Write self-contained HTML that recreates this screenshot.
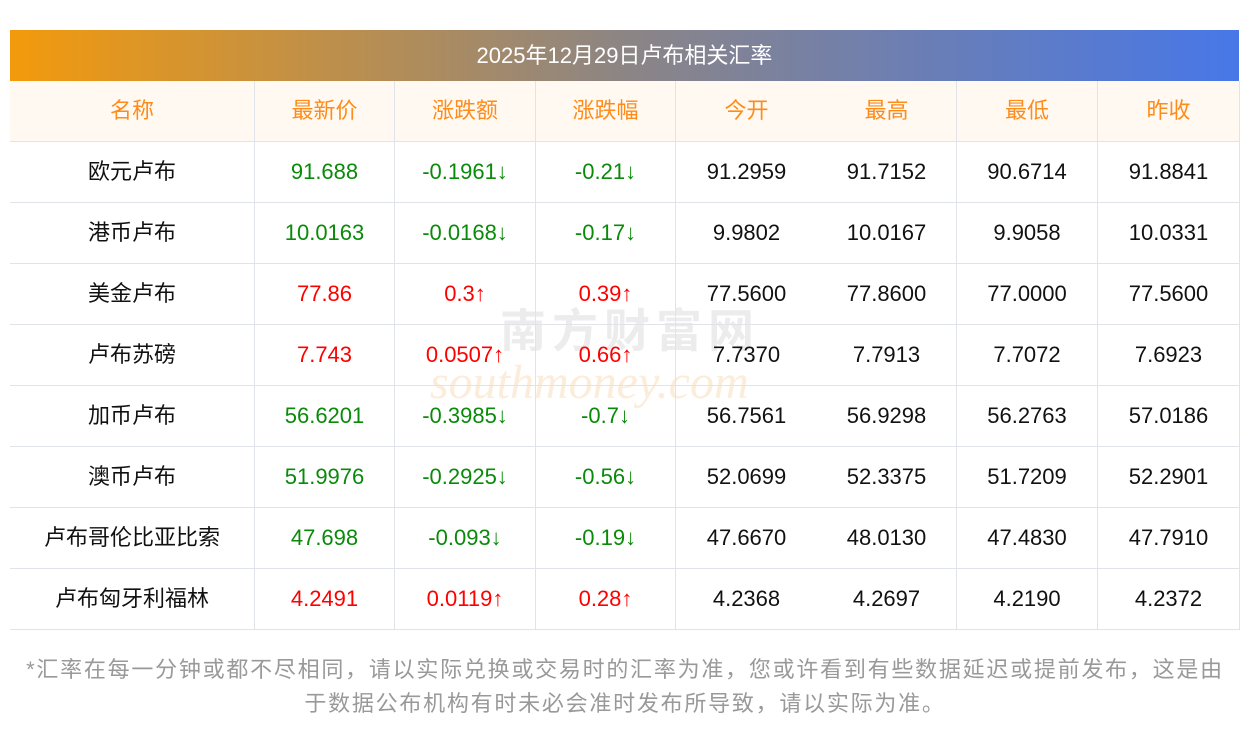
<!DOCTYPE html>
<html><head><meta charset="utf-8"><style>
body{margin:0;width:1250px;height:733px;background:#fff;font-family:"Liberation Sans","Noto Sans CJK SC",sans-serif;position:relative;overflow:hidden}
.title{position:absolute;left:10px;top:30px;width:1229px;height:51px;background:linear-gradient(90deg,#f39a0c,#8c8585 50%,#4777e8);color:#fff;font-size:22px;line-height:51px;text-align:center}
.row{position:absolute;left:10px;width:1229px;height:60px;border-bottom:1px solid #e0e3ea;border-right:1px solid #e0e3ea}
.c{position:absolute;top:0;height:60px;line-height:60px;text-align:center;font-size:22px;color:#111}
.b{border-right:1px solid #e0e3ea;box-sizing:border-box}
.h{background:#fff9f2}
.h .c{color:#ff8c1a}
.g{color:#0a8a0a!important}.r{color:#f00!important}
.foot{position:absolute;left:0;width:1250px;text-align:center;color:#999;font-size:22px;letter-spacing:1.75px}
.wm{position:absolute;left:500px;top:295px;font-size:46px;color:rgba(200,200,200,.35);font-weight:bold;letter-spacing:6px}
.wm2{position:absolute;left:430px;top:355px;font-size:48px;color:rgba(245,200,150,.35);font-style:italic;font-family:"Liberation Serif",serif}
</style></head><body>
<div class="title">2025年12月29日卢布相关汇率</div>
<div class="wm">南方财富网</div><div class="wm2">southmoney.com</div>
<div id="t"></div>
<script>
var rows=[["名称","最新价","涨跌额","涨跌幅","今开","最高","最低","昨收"],
["欧元卢布","91.688","-0.1961↓","-0.21↓","91.2959","91.7152","90.6714","91.8841","g"],
["港币卢布","10.0163","-0.0168↓","-0.17↓","9.9802","10.0167","9.9058","10.0331","g"],
["美金卢布","77.86","0.3↑","0.39↑","77.5600","77.8600","77.0000","77.5600","r"],
["卢布苏磅","7.743","0.0507↑","0.66↑","7.7370","7.7913","7.7072","7.6923","r"],
["加币卢布","56.6201","-0.3985↓","-0.7↓","56.7561","56.9298","56.2763","57.0186","g"],
["澳币卢布","51.9976","-0.2925↓","-0.56↓","52.0699","52.3375","51.7209","52.2901","g"],
["卢布哥伦比亚比索","47.698","-0.093↓","-0.19↓","47.6670","48.0130","47.4830","47.7910","g"],
["卢布匈牙利福林","4.2491","0.0119↑","0.28↑","4.2368","4.2697","4.2190","4.2372","r"]];
var x=[0,245,385,526,666,807,947,1088,1229],bd=[1,1,1,1,0,1,1,0];
var h="";
rows.forEach(function(r,i){h+='<div class="row'+(i==0?' h':'')+'" style="top:'+(81+i*61)+'px">';
for(var j=0;j<8;j++){var cl=(i>0&&j>=1&&j<=3)?' '+r[8]:'';h+='<div class="c'+(bd[j]?' b':'')+cl+'" style="left:'+x[j]+'px;width:'+(x[j+1]-x[j])+'px">'+r[j]+'</div>';}
h+='</div>';});
document.getElementById('t').innerHTML=h;
</script>
<div class="foot" style="top:652px">*汇率在每一分钟或都不尽相同，请以实际兑换或交易时的汇率为准，您或许看到有些数据延迟或提前发布，这是由</div>
<div class="foot" style="top:686px">于数据公布机构有时未必会准时发布所导致，请以实际为准。</div>
</body></html>
